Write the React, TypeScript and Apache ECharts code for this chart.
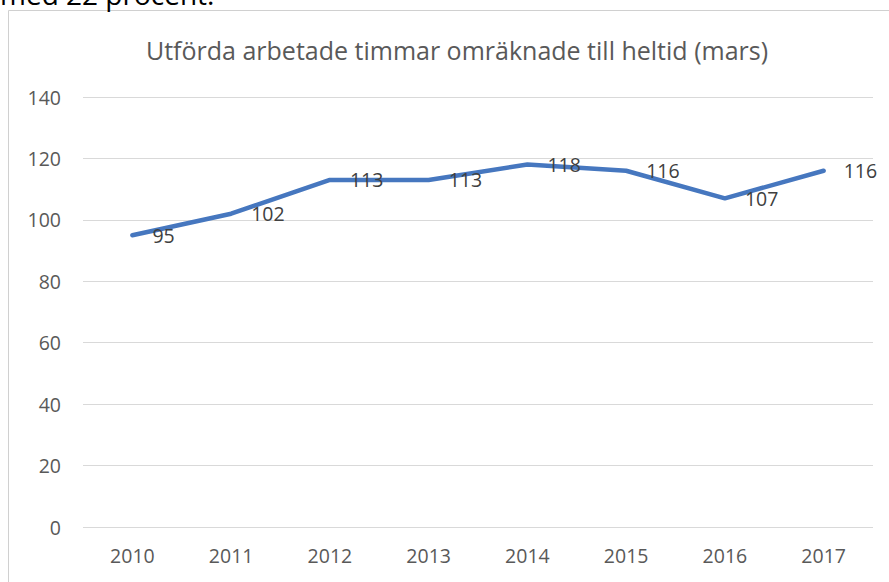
import React, { useEffect, useRef } from "react";
import * as echarts from "echarts";

const title = "Utförda arbetade timmar omräknade till heltid (mars)";
const years = ["2010", "2011", "2012", "2013", "2014", "2015", "2016", "2017"];
const values = [95, 102, 113, 113, 118, 116, 107, 116];
const yTicks = { min: 0, max: 140, interval: 20 };
const topText = "med 22 procent.";

export default function App() {
  const ref = useRef<HTMLDivElement>(null);
  useEffect(() => {
    if (!ref.current) return;
    const chart = echarts.init(ref.current, null, { renderer: "svg" });
    const font = "'Open Sans', 'DejaVu Sans', sans-serif";
    chart.setOption({
      animation: false,
      backgroundColor: "#ffffff",
      title: {
        text: title,
        left: 452,
        textAlign: "center",
        top: 32,
        textStyle: { color: "#595959", fontSize: 25, fontWeight: "normal", fontFamily: font },
      },
      graphic: [
        {
          type: "rect",
          shape: { x: 8.5, y: 10.5, width: 900, height: 600 },
          style: { fill: "none", stroke: "#d0d0d0", lineWidth: 1 },
          z: -1,
        },
        {
          type: "text",
          x: 0,
          y: 8,
          style: {
            text: topText,
            fill: "#000000",
            font: "28px 'Open Sans', sans-serif",
            textVerticalAlign: "bottom",
          },
        },
      ],
      grid: { left: 83, right: 16, top: 97, bottom: 55, containLabel: false },
      xAxis: {
        type: "category",
        data: years,
        boundaryGap: true,
        axisLine: { show: false },
        axisTick: { show: false },
        axisLabel: { color: "#595959", fontSize: 19.5, fontFamily: font, margin: 18 },
      },
      yAxis: {
        type: "value",
        min: yTicks.min,
        max: yTicks.max,
        interval: yTicks.interval,
        axisLine: { show: false },
        axisTick: { show: false },
        splitLine: { lineStyle: { color: "#d9d9d9", width: 1 } },
        axisLabel: { color: "#595959", fontSize: 19.5, fontFamily: font, margin: 22 },
      },
      series: [
        {
          type: "line",
          data: values,
          showSymbol: true,
          symbol: "circle",
          symbolSize: 0,
          lineStyle: { color: "#4677bf", width: 4.5, cap: "round", join: "round" },
          itemStyle: { color: "#4677bf" },
          label: {
            show: true,
            position: "right",
            distance: 20,
            color: "#404040",
            fontSize: 19.5,
            fontFamily: font,
          },
        },
      ],
    });
    return () => chart.dispose();
  }, []);
  return (
    <div
      ref={ref}
      style={{ position: "absolute", left: 0, top: 0, width: 889, height: 582 }}
    />
  );
}
